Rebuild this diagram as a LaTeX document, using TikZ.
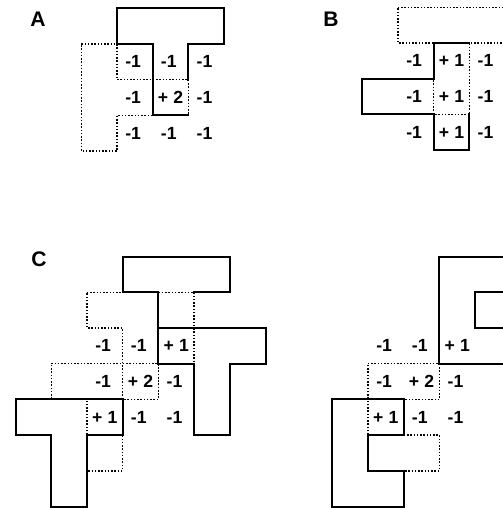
\documentclass[tikz,border=0pt]{standalone}
\usepackage{fontspec}
\setmainfont{Liberation Sans}
\newcommand{\wfont}{\fontsize{10}{12}\selectfont\bfseries}
\newcommand{\tagfont}{\fontsize{12}{14}\selectfont\bfseries}
\newcommand{\pl}[1]{+\hspace{0.3em}#1}

\tikzset{
	solidline/.style={line width = 0.4mm, line join=miter, line cap=rect},
	dotline/.style={line width = 0.3mm, dash pattern=on 0.3mm off 0.35mm},
	wt/.style={font=\wfont, inner sep=0pt},
	paneltag/.style={font=\tagfont, inner sep=0pt}
}

\begin{document}
\begin{tikzpicture}[x=0.2mm, y=-0.2mm]
			
			\useasboundingbox (0,0) rectangle (503,508);
			\clip (0,0) rectangle (503,508);
			
			\node[paneltag] (tagA) at (38,19) {A};
			\node[paneltag] (tagB) at (331,19) {B};
			\node[paneltag] (tagC) at (39,259) {C};
			
			% A
			\begin{scope}[shift={(117,44)}, x=7.14mm, y=-7.14mm]
			\draw[dotline] (-1,0) -- (0,0) -- (0,1) -- (2,1) -- (2,2) -- (0,2) -- (0,3) -- (-1,3) -- cycle;
			\draw[solidline] (2,1) -- (2,0) -- (3,0) -- (3,-1) -- (0,-1) -- (0,0) -- (1,0) -- (1,2) -- (2,2);
			
			\node[wt] (a11) at (0.45,0.5) {-1};
			\node[wt] (a12) at (1.45,0.5) {-1};
			\node[wt] (a13) at (2.45,0.5) {-1};
			\node[wt] (a21) at (0.45,1.5) {-1};
			\node[wt] (a22) at (1.5,1.5) {\pl{2}};
			\node[wt] (a23) at (2.45,1.5) {-1};
			\node[wt] (a31) at (0.45,2.5) {-1};
			\node[wt] (a32) at (1.45,2.5) {-1};
			\node[wt] (a33) at (2.45,2.5) {-1};
			\end{scope}
			
			% B
			\begin{scope}[shift={(398,43)}, x=7.14mm, y=-7.14mm]
			\draw[dotline] (0,-1) -- (3,-1) -- (3,0) -- (2,0) -- (2,2) -- (1,2) -- (1,0) -- (0,0) -- cycle;
			\draw[solidline] (2,2) -- (2,3) -- (1,3) -- (1,2) -- (-1,2) -- (-1,1) -- (1,1) -- (1,0) -- (2,0);
			
			\node[wt] (b11) at (0.45,0.5) {-1};
			\node[wt] (b12) at (1.5,0.5) {\pl{1}};
			\node[wt] (b13) at (2.45,0.5) {-1};
			\node[wt] (b21) at (0.45,1.5) {-1};
			\node[wt] (b22) at (1.5,1.5) {\pl{1}};
			\node[wt] (b23) at (2.45,1.5) {-1};
			\node[wt] (b31) at (0.45,2.5) {-1};
			\node[wt] (b32) at (1.5,2.5) {\pl{1}};
			\node[wt] (b33) at (2.45,2.5) {-1};
			\end{scope}
			
			% C
			\begin{scope}[shift={(87,328)}, x=7.14mm, y=-7.14mm]
			\draw[dotline] (0,-1) -- (3,-1) -- (3,0) -- (2,0) -- (2,2) -- (1,2) -- (1,0) -- (0,0) -- cycle;
			\draw[dotline] (-1,1) -- (2,1) -- (2,2) -- (1,2) -- (1,4) -- (0,4) -- (0,2) -- (-1,2) -- cycle;
			\draw[dotline] (3,0) -- (3,1);
			
			\draw[solidline] (2,1) -- (2,-1) -- (1,-1) -- (1,-2) -- (4,-2) -- (4,-1) -- (3,-1);
			\draw[solidline] (2,0) -- (5,0) -- (5,1) -- (4,1) -- (4,3) -- (3,3) -- (3,1) -- (2,1) -- cycle;
			\draw[solidline] (-2,2) -- (1,2) -- (1,3) -- (0,3) -- (0,5) -- (-1,5) -- (-1,3) -- (-2,3) -- cycle;
			
			\node[wt] (c11) at (0.45,0.5) {-1};
			\node[wt] (c12) at (1.45,0.5) {-1};
			\node[wt] (c13) at (2.5,0.5) {\pl{1}};
			\node[wt] (c21) at (0.45,1.5) {-1};
			\node[wt] (c22) at (1.5,1.5) {\pl{2}};
			\node[wt] (c23) at (2.45,1.5) {-1};
			\node[wt] (c31) at (0.5,2.5) {\pl{1}};
			\node[wt] (c32) at (1.45,2.5) {-1};
			\node[wt] (c33) at (2.45,2.5) {-1};
			\end{scope}
			
			% D (no tag)
			\begin{scope}[shift={(368,328)}, x=7.14mm, y=-7.14mm]
			\draw[dotline] (0,1) -- (2,1) -- (2,2) -- (1,2) -- (1,3) -- (2,3) -- (2,4) -- (0,4) -- cycle;
			
			\draw[solidline] (2,-2) -- (4,-2) -- (4,-1) -- (3,-1) -- (3,0) -- (4,0) -- (4,1) -- (2,1) -- cycle;
			\draw[solidline] (-1,2) -- (1,2) -- (1,3) -- (0,3) -- (0,4) -- (1,4) -- (1,5) -- (-1,5) -- cycle;
			
			\node[wt] (d11) at (0.45,0.5) {-1};
			\node[wt] (d12) at (1.45,0.5) {-1};
			\node[wt] (d13) at (2.5,0.5) {\pl{1}};
			\node[wt] (d21) at (0.45,1.5) {-1};
			\node[wt] (d22) at (1.5,1.5) {\pl{2}};
			\node[wt] (d23) at (2.45,1.5) {-1};
			\node[wt] (d31) at (0.5,2.5) {\pl{1}};
			\node[wt] (d32) at (1.45,2.5) {-1};
			\node[wt] (d33) at (2.45,2.5) {-1};
			\end{scope}
			
		\end{tikzpicture}
\end{document}
